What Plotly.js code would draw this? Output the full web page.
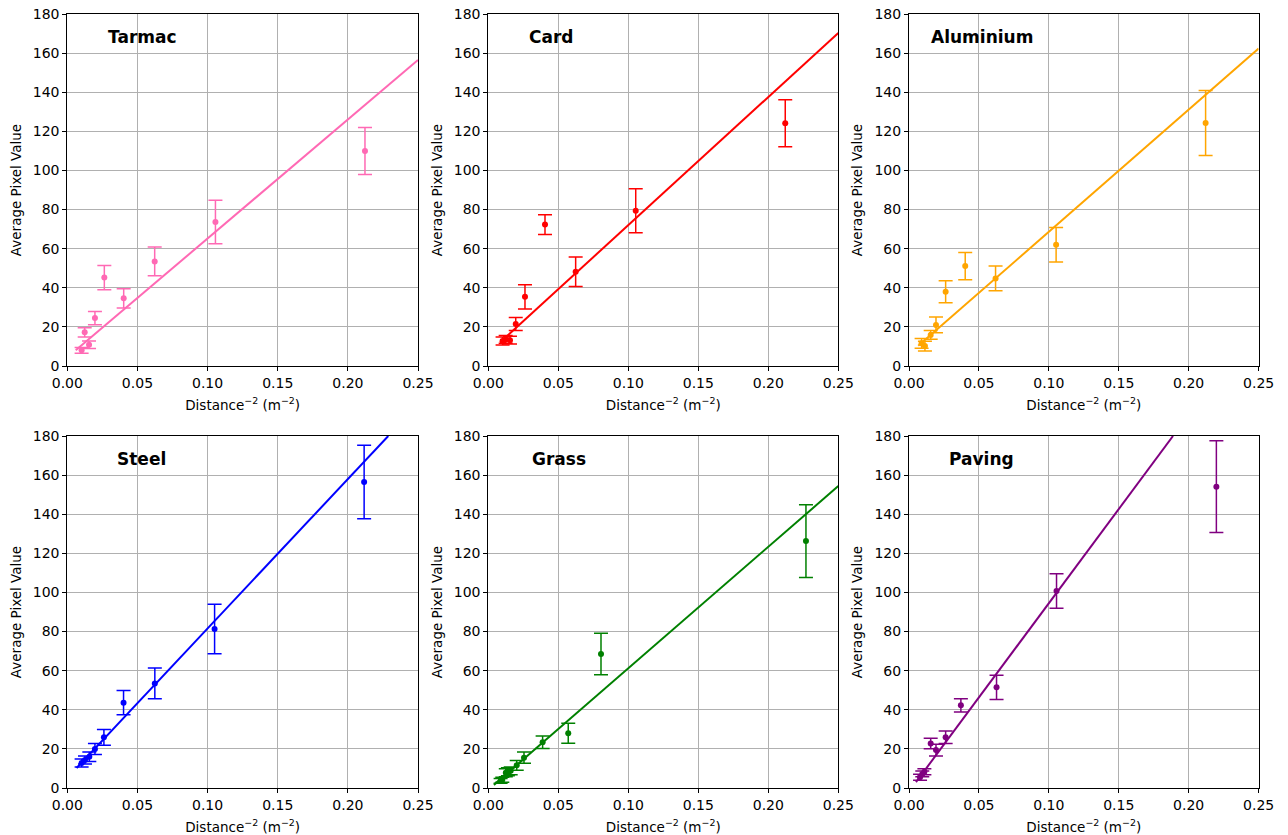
<!DOCTYPE html>
<html>
<head>
<meta charset="utf-8">
<script src="https://cdn.plot.ly/plotly-3.0.1.min.js"></script>
<style>html,body{margin:0;padding:0;background:#fff;}#chart{width:1288px;height:835px;}</style>
</head>
<body>
<div id="chart"></div>
<script>
// ---- Data ----
const panelNames = ["Tarmac", "Card", "Aluminium", "Steel", "Grass", "Paving"];
const panelColors = ["hotpink", "red", "orange", "blue", "green", "purple"];

const tarmacX = [0.0102, 0.0124, 0.0155, 0.0197, 0.0264, 0.0402, 0.0623, 0.1056, 0.2122];
const tarmacY = [8.0, 17.2, 10.9, 24.5, 45.2, 34.6, 53.5, 73.6, 109.9];
const tarmacErr = [1.5, 2.4, 1.9, 3.4, 6.2, 4.9, 7.4, 11.1, 12.0];
const tarmacLineX = [0.006, 0.25];
const tarmacLineY = [8.0, 156.5];

const cardX = [0.0102, 0.0124, 0.0155, 0.0196, 0.0262, 0.0405, 0.0624, 0.1053, 0.2121];
const cardY = [12.8, 13.6, 13.2, 21.5, 35.4, 72.3, 48.2, 79.4, 124.1];
const cardErr = [2.0, 2.0, 2.0, 3.3, 6.2, 5.0, 7.5, 11.2, 12.0];
const cardLineX = [0.0085, 0.25];
const cardLineY = [12.1, 170.3];

const aluX = [0.009, 0.0114, 0.0155, 0.0193, 0.0262, 0.0402, 0.0619, 0.1052, 0.2121];
const aluY = [11.6, 10.2, 15.9, 21.0, 38.0, 51.1, 44.8, 62.0, 124.3];
const aluErr = [2.5, 2.5, 2.2, 4.0, 5.6, 7.0, 6.3, 8.8, 16.6];
const aluLineX = [0.0066, 0.25];
const aluLineY = [10.3, 162.3];

const steelX = [0.0102, 0.0126, 0.0157, 0.0197, 0.0261, 0.0401, 0.0624, 0.105, 0.2116];
const steelY = [12.8, 14.3, 16.0, 19.9, 25.9, 43.6, 53.5, 81.3, 156.5];
const steelErr = [2.0, 2.0, 2.4, 2.8, 4.0, 6.2, 7.8, 12.7, 18.8];
const steelLineX = [0.0066, 0.2288];
const steelLineY = [10.2, 180];

const grassX = [0.0088, 0.0100, 0.0125, 0.0140, 0.0160, 0.0203, 0.0255, 0.0388, 0.0571, 0.0805, 0.2269];
const grassY = [3.6, 4.2, 7.8, 8.3, 8.8, 11.6, 15.5, 23.4, 28.0, 68.5, 126.3];
const grassErr = [1.2, 1.3, 2.0, 2.0, 2.0, 2.5, 2.9, 3.2, 5.1, 10.6, 18.6];
const grassLineX = [0.004, 0.25];
const grassLineY = [1.6, 154.4];

const pavingX = [0.0079, 0.0095, 0.0110, 0.0155, 0.0193, 0.0262, 0.0371, 0.0626, 0.1055, 0.2198];
const pavingY = [5.5, 7.2, 8.3, 22.8, 19.4, 25.9, 42.3, 51.5, 100.7, 154.1];
const pavingErr = [1.5, 1.5, 1.5, 2.7, 3.0, 3.2, 3.4, 6.2, 8.8, 23.5];
const pavingLineX = [0.005, 0.1888];
const pavingLineY = [3.0, 180];

const xTickVals = [0, 0.05, 0.10, 0.15, 0.20, 0.25];
const xTickText = ["0.00", "0.05", "0.10", "0.15", "0.20", "0.25"];
const yTickVals = [0, 20, 40, 60, 80, 100, 120, 140, 160, 180];

const xTitle = "Distance<sup>−2</sup> (m<sup>−2</sup>)";
const yTitle = "Average Pixel Value";

// label positions (fraction of axis domain)
const labelPosX = [0.11, 0.11, 0.057, 0.136, 0.12, 0.11];
const labelPosY = [0.935, 0.935, 0.935, 0.935, 0.935, 0.935];

// ---- Build ----
const series = [
  [tarmacX, tarmacY, tarmacErr, tarmacLineX, tarmacLineY],
  [cardX, cardY, cardErr, cardLineX, cardLineY],
  [aluX, aluY, aluErr, aluLineX, aluLineY],
  [steelX, steelY, steelErr, steelLineX, steelLineY],
  [grassX, grassY, grassErr, grassLineX, grassLineY],
  [pavingX, pavingY, pavingErr, pavingLineX, pavingLineY]
];

const W = 1288, H = 835;
const colPx = [[67.3, 418], [488.3, 838.3], [909, 1258.6]];
const rowPx = [[14, 366], [436, 788]];

const traces = [];
const layout = {
  width: W, height: H,
  margin: {l: 0, r: 0, t: 0, b: 0},
  paper_bgcolor: "#fff", plot_bgcolor: "#fff",
  showlegend: false,
  font: {family: "DejaVu Sans, sans-serif", size: 13.5, color: "#000"},
  annotations: []
};

series.forEach((s, i) => {
  const col = i % 3, row = Math.floor(i / 3);
  const n = i + 1;
  const xa = "x" + (n === 1 ? "" : n), ya = "y" + (n === 1 ? "" : n);
  const color = panelColors[i];
  traces.push({
    type: "scatter", mode: "lines", x: s[3], y: s[4], xaxis: xa, yaxis: ya,
    line: {color: color, width: 2}, hoverinfo: "skip", cliponaxis: true
  });
  traces.push({
    type: "scatter", mode: "markers", x: s[0], y: s[1], xaxis: xa, yaxis: ya,
    marker: {color: color, size: 6},
    error_y: {type: "data", array: s[2], visible: true, color: color, thickness: 1.5, width: 7}
  });
  const axCommon = {
    showline: true, linecolor: "#000", linewidth: 1, mirror: true,
    ticks: "outside", ticklen: 4, tickwidth: 1, tickcolor: "#000",
    showgrid: true, gridcolor: "#b0b0b0", gridwidth: 1,
    zeroline: false, automargin: false,
    tickfont: {family: "DejaVu Sans, sans-serif", size: 14, color: "#000"}
  };
  layout["xaxis" + (n === 1 ? "" : n)] = Object.assign({}, axCommon, {
    domain: [colPx[col][0] / W, colPx[col][1] / W],
    anchor: ya,
    range: [0, 0.25], tickvals: xTickVals, ticktext: xTickText,
    title: {text: xTitle, font: {size: 13.5}, standoff: 10}
  });
  layout["yaxis" + (n === 1 ? "" : n)] = Object.assign({}, axCommon, {
    domain: [1 - rowPx[row][1] / H, 1 - rowPx[row][0] / H],
    anchor: xa,
    range: [0, 180], tickvals: yTickVals,
    title: {text: yTitle, font: {size: 13.5}, standoff: 8}
  });
  layout.annotations.push({
    xref: xa + " domain", yref: ya + " domain",
    x: labelPosX[i], y: labelPosY[i], xanchor: "left", yanchor: "middle",
    text: "<b>" + panelNames[i] + "</b>", showarrow: false,
    font: {family: "DejaVu Sans, sans-serif", size: 17, color: "#000"}
  });
});

Plotly.newPlot("chart", traces, layout, {displayModeBar: false, staticPlot: true});
</script>
</body>
</html>
